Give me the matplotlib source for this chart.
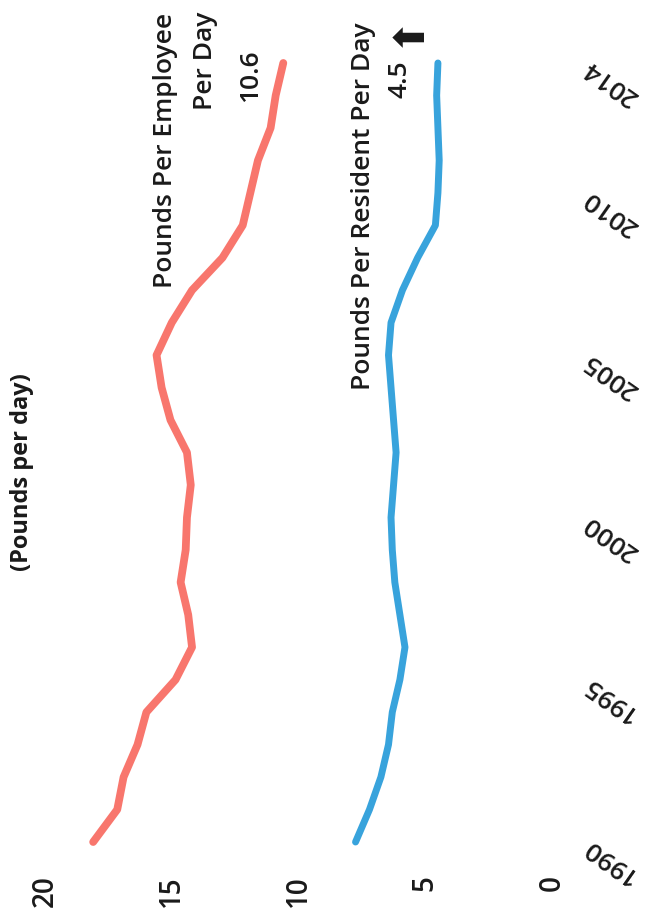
import matplotlib.pyplot as plt
from matplotlib.transforms import offset_copy

# Daily waste generation, 1990-2014
years = list(range(1990, 2015))
per_employee = [18.1, 17.15, 16.9, 16.35, 16.0, 14.85, 14.2, 14.35, 14.65, 14.45,
                14.4, 14.25, 14.4, 15.05, 15.4, 15.6, 15.0, 14.2, 13.0, 12.2,
                11.9, 11.6, 11.1, 10.9, 10.6]
per_resident = [7.75, 7.2, 6.75, 6.45, 6.3, 6.0, 5.8, 6.0, 6.2, 6.3,
                6.35, 6.25, 6.15, 6.25, 6.35, 6.45, 6.35, 5.9, 5.3, 4.6,
                4.5, 4.45, 4.5, 4.55, 4.5]
value_ticks = [0, 5, 10, 15, 20]
year_ticks = [1990, 1995, 2000, 2005, 2010, 2014]

W, H = 656, 922
RED = "#f8766d"
BLUE = "#38a3dc"
INK = "#1a1a1a"
plt.rcParams["font.family"] = ["Open Sans", "DejaVu Sans"]


def px(x, y):
    return x / W, 1 - y / H


fig = plt.figure(figsize=(W / 100, H / 100), dpi=100)
# chart is laid out sideways: years run bottom-to-top, values right-to-left
ax = fig.add_axes([45 / W, 80 / H, 507 / W, 779 / H])
ax.plot(per_employee, years, color=RED, lw=5.6, solid_capstyle="round",
        solid_joinstyle="round", clip_on=False)
ax.plot(per_resident, years, color=BLUE, lw=5.0, solid_capstyle="round",
        solid_joinstyle="round", clip_on=False)
ax.set_xlim(20, 0)
ax.set_ylim(1990, 2014)
for s in ax.spines.values():
    s.set_visible(False)

ax.set_xticks(value_ticks)
ax.set_xticklabels([str(v) for v in value_ticks], rotation=90, fontsize=20,
                   color=INK, weight="semibold")
ax.tick_params(axis="x", length=0, pad=24)
ax.set_yticks([])

# slanted year labels on the right
trans = offset_copy(ax.get_yaxis_transform(), fig=fig, x=0, y=-14, units="points")
for yr in year_ticks:
    ax.text(1.115, yr, str(yr), transform=trans, rotation=145, ha="center",
            va="center", fontsize=19, color=INK, weight="semibold",
            rotation_mode="anchor")

fig.text(*px(22, 472), "(Pounds per day)", rotation=90, ha="center", va="center",
         fontsize=17, weight="bold", color=INK)

label_kw = dict(rotation=90, ha="center", va="top", fontsize=19, color=INK,
                weight="semibold")
fig.text(*px(166, 13), "Pounds Per Employee", **label_kw)
fig.text(*px(206, 12), "Per Day", **label_kw)
fig.text(*px(251, 50), "10.6", **label_kw)

fig.text(*px(363, 22), "Pounds Per Resident Per Day", **label_kw)
fig.text(*px(400, 60), "4.5", **label_kw)
fig.text(*px(406, 30), "\u2b06", rotation=90, ha="center", va="center",
         fontsize=30, color=INK, family=["DejaVu Sans"])

fig.savefig("out.png", dpi=100, facecolor="white")
